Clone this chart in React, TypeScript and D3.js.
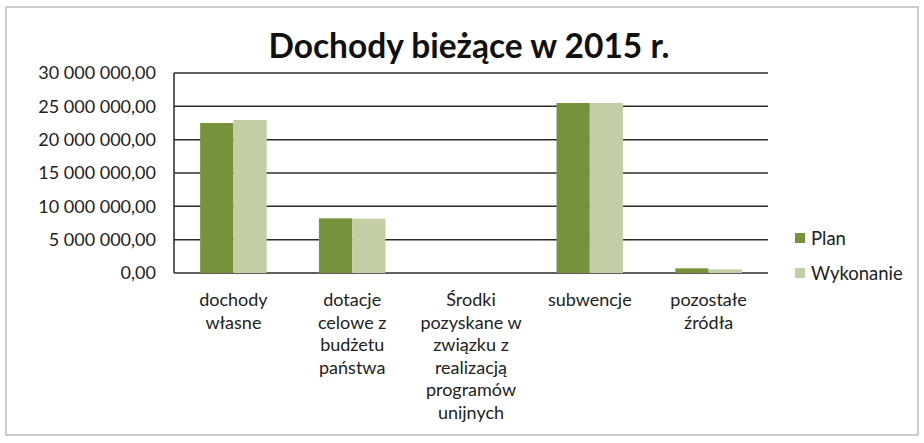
import React from "react";
import * as d3 from "d3";

const categories: string[][] = [
  ["dochody", "własne"],
  ["dotacje", "celowe z", "budżetu", "państwa"],
  ["Środki", "pozyskane w", "związku z", "realizacją", "programów", "unijnych"],
  ["subwencje"],
  ["pozostałe", "źródła"],
];
const planValues = [22500000, 8200000, 0, 25500000, 700000];
const wykonanieValues = [22950000, 8150000, 0, 25500000, 550000];
const seriesNames = ["Plan", "Wykonanie"];
const seriesColors = ["#76933C", "#C3CDA6"];
const yTicks = [0, 5000000, 10000000, 15000000, 20000000, 25000000, 30000000];
const title = "Dochody bieżące w 2015 r.";

const W = 924;
const H = 443;
const plot = { left: 174, right: 768, top: 73, bottom: 273 };
const FONT = "Lato, 'Open Sans', sans-serif";

function fmt(v: number): string {
  const s = Math.round(v).toString().replace(/\B(?=(\d{3})+(?!\d))/g, " ");
  return s + ",00";
}

export default function App() {
  const x = d3
    .scaleBand<number>()
    .domain(categories.map((_, i) => i))
    .range([plot.left, plot.right])
    .paddingInner(0.44)
    .paddingOuter(0.22);
  const y = d3.scaleLinear().domain([0, 30000000]).range([plot.bottom, plot.top]);
  const inner = d3
    .scaleBand<number>()
    .domain([0, 1])
    .range([0, x.bandwidth()]);
  const series = [planValues, wykonanieValues];

  return (
    <svg
      width={W}
      height={H}
      style={{ position: "absolute", left: 0, top: 0, background: "#fff" }}
      fontFamily={FONT}
    >
      <rect x={6} y={7} width={912} height={428} fill="#fff" stroke="#bdbdbd" strokeWidth={1.5} />
      <text x={469} y={58} textAnchor="middle" fontSize={33.5} fontWeight="bold" fill="#111">
        {title}
      </text>
      {yTicks.map((t) => (
        <g key={t}>
          <line x1={plot.left} x2={plot.right} y1={y(t)} y2={y(t)} stroke="#2a2a2a" strokeWidth={1.5} />
          <text x={156} y={y(t)} dy="0.36em" textAnchor="end" fontSize={18} fill="#222">
            {fmt(t)}
          </text>
        </g>
      ))}
      <line x1={plot.left} x2={plot.left} y1={plot.top} y2={plot.bottom} stroke="#2a2a2a" strokeWidth={1.5} />
      {series.map((vals, si) =>
        vals.map((v, ci) => (
          <rect
            key={`${si}-${ci}`}
            x={(x(ci) as number) + (inner(si) as number)}
            y={y(v)}
            width={inner.bandwidth()}
            height={plot.bottom - y(v)}
            fill={seriesColors[si]}
          />
        ))
      )}
      {categories.map((lines, ci) => (
        <text
          key={ci}
          x={(x(ci) as number) + x.bandwidth() / 2}
          y={306}
          textAnchor="middle"
          fontSize={18}
          fill="#222"
        >
          {lines.map((l, li) => (
            <tspan key={li} x={(x(ci) as number) + x.bandwidth() / 2} dy={li === 0 ? 0 : 22.6}>
              {l}
            </tspan>
          ))}
        </text>
      ))}
      {seriesNames.map((n, i) => (
        <g key={n} transform={`translate(795, ${238 + i * 35})`}>
          <rect x={0} y={-5} width={10} height={10} fill={seriesColors[i]} />
          <text x={16} y={0} dy="0.36em" fontSize={18.5} fill="#222">
            {n}
          </text>
        </g>
      ))}
    </svg>
  );
}
